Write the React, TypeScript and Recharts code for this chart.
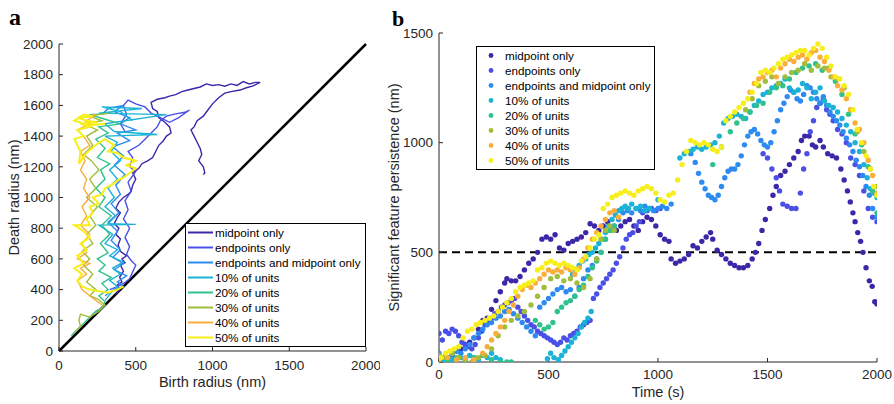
import React from 'react';
import { ScatterChart, Scatter, XAxis, YAxis, ReferenceLine, Label } from 'recharts';

type Pt = [number, number];

const seriesNames = [
  'midpoint only',
  'endpoints only',
  'endpoints and midpoint only',
  '10% of units',
  '20% of units',
  '30% of units',
  '40% of units',
  '50% of units',
];
const seriesColors = ['#3e26a8', '#4a50e6', '#2c8af0', '#1ab3d7', '#30c28c', '#a0bd3b', '#f9ae3c', '#f7ee1a'];

const radiusTicks = [0, 200, 400, 600, 800, 1000, 1200, 1400, 1600, 1800, 2000];
const birthTicks = [0, 500, 1000, 1500, 2000];
const timeTicks = [0, 500, 1000, 1500, 2000];
const persistenceTicks = [0, 500, 1000, 1500];

// panel a: (birth radius, death radius) trajectories
const midA: Pt[] = [
  [370, 370], [395, 400], [380, 430], [410, 450], [395, 480], [420, 520], [400, 560], [430, 575], [410, 600],
  [440, 620], [400, 650], [385, 690], [400, 730], [370, 760], [390, 800], [360, 830], [380, 870], [400, 900],
  [370, 930], [390, 970], [420, 1000], [450, 1020], [470, 1040], [480, 1080], [500, 1120], [480, 1160],
  [520, 1190], [540, 1220], [580, 1240], [610, 1260], [630, 1300], [650, 1340], [680, 1370], [700, 1400],
  [730, 1420], [720, 1460], [690, 1490], [650, 1520], [640, 1560], [610, 1580], [600, 1620], [640, 1640],
  [690, 1650], [720, 1660], [760, 1670], [800, 1690], [840, 1700], [880, 1710], [920, 1720], [960, 1740],
  [1000, 1730], [1040, 1735], [1080, 1725], [1120, 1740], [1160, 1730], [1200, 1755], [1240, 1740],
  [1280, 1750], [1310, 1750], [1260, 1725], [1220, 1715], [1180, 1700], [1120, 1690], [1080, 1680],
  [1040, 1650], [1000, 1610], [970, 1570], [940, 1530], [900, 1500], [880, 1460], [860, 1440], [880, 1400],
  [900, 1360], [920, 1320], [930, 1280], [910, 1240], [940, 1200], [950, 1160], [940, 1150],
];
const endA: Pt[] = [
  [330, 400], [380, 420], [420, 440], [460, 470], [500, 560], [470, 590], [440, 630], [460, 680], [430, 740],
  [460, 800], [420, 860], [450, 920], [430, 980], [470, 1040], [450, 1100], [500, 1170], [460, 1200],
  [480, 1260], [450, 1300], [520, 1340], [560, 1380], [600, 1420], [640, 1460], [660, 1500], [700, 1530],
  [760, 1545], [820, 1555], [850, 1570], [780, 1520], [720, 1490], [660, 1520], [600, 1550], [560, 1590],
  [500, 1610], [450, 1635], [420, 1600], [440, 1540], [400, 1480], [430, 1430],
];
const bothA: Pt[] = [
  [300, 360], [360, 400], [420, 420], [380, 450], [440, 490], [360, 530], [420, 570], [350, 610], [400, 660],
  [340, 720], [380, 780], [320, 840], [390, 900], [340, 960], [400, 1020], [370, 1080], [430, 1150],
  [360, 1210], [420, 1270], [350, 1330], [460, 1370], [380, 1420], [500, 1440], [400, 1480], [460, 1520],
  [360, 1560], [420, 1600], [320, 1580], [280, 1540],
];
const u10A: Pt[] = [
  [300, 330], [340, 380], [380, 420], [330, 460], [400, 500], [350, 540], [420, 580], [330, 620], [380, 660],
  [300, 700], [350, 760], [260, 820], [500, 825], [320, 830], [370, 880], [300, 940], [360, 1000],
  [320, 1060], [380, 1120], [330, 1180], [400, 1240], [340, 1300], [380, 1360], [300, 1400], [640, 1410],
  [360, 1430], [300, 1480], [700, 1540], [260, 1550], [540, 1580], [280, 1590], [400, 1560], [480, 1500],
];
const u20A: Pt[] = [
  [80, 100], [120, 140], [160, 180], [200, 220], [240, 260], [280, 280], [300, 320], [260, 360], [320, 400],
  [280, 440], [340, 480], [260, 520], [300, 560], [250, 600], [320, 640], [270, 700], [330, 760], [280, 820],
  [340, 880], [260, 940], [300, 1000], [240, 1060], [300, 1120], [270, 1180], [330, 1220], [250, 1260],
  [300, 1320], [240, 1380], [320, 1420], [260, 1460], [400, 1480], [300, 1510], [200, 1540], [350, 1550],
];
const u30A: Pt[] = [
  [100, 120], [140, 160], [130, 200], [140, 240], [200, 220], [260, 260], [300, 300], [250, 340], [200, 360],
  [240, 400], [180, 450], [220, 500], [160, 560], [200, 600], [150, 650], [220, 700], [180, 760], [240, 820],
  [200, 880], [250, 940], [180, 1000], [240, 1060], [200, 1120], [260, 1180], [210, 1240], [160, 1280],
  [220, 1340], [180, 1400], [250, 1440], [160, 1480], [280, 1500], [200, 1530], [320, 1550],
];
const u40A: Pt[] = [
  [280, 300], [240, 330], [200, 360], [150, 400], [120, 460], [180, 500], [140, 540], [200, 570], [120, 600],
  [180, 640], [150, 700], [200, 760], [140, 820], [180, 880], [150, 940], [200, 1000], [160, 1060],
  [180, 1120], [140, 1180], [170, 1240], [140, 1300], [200, 1340], [160, 1400], [120, 1440], [200, 1480],
  [140, 1520], [240, 1540], [180, 1500],
];
const u50A: Pt[] = [
  [420, 420], [380, 400], [320, 380], [260, 390], [200, 400], [150, 420], [120, 460], [150, 500], [100, 540],
  [160, 570], [120, 620], [180, 660], [140, 700], [200, 740], [160, 780], [100, 820], [200, 820], [180, 860],
  [220, 900], [200, 940], [260, 960], [220, 1000], [280, 1020], [300, 1060], [340, 1080], [380, 1110],
  [420, 1130], [460, 1160], [500, 1190], [440, 1210], [500, 1240], [420, 1260], [380, 1290], [320, 1300],
  [360, 1340], [300, 1380], [250, 1350], [200, 1310], [170, 1280], [150, 1250], [130, 1220], [140, 1300],
  [120, 1340], [100, 1380], [160, 1400], [120, 1440], [200, 1460], [140, 1480], [250, 1490], [180, 1500],
  [120, 1520], [220, 1530], [160, 1540], [100, 1500], [200, 1470], [300, 1480],
];

// panel b: (time, significant feature persistence)
const midB: Pt[] = [
  [0, 10], [20, 5], [40, 20], [60, 30], [80, 50], [100, 60], [120, 80], [140, 90], [160, 110], [180, 150],
  [200, 190], [220, 200], [240, 240], [260, 280], [280, 320], [300, 360], [310, 380], [330, 370], [350, 370],
  [370, 390], [390, 420], [410, 450], [430, 470], [450, 500], [470, 560], [490, 570], [510, 560], [530, 580],
  [550, 520], [570, 510], [590, 540], [610, 550], [630, 560], [650, 570], [670, 590], [690, 630], [710, 620],
  [730, 600], [750, 620], [770, 640], [790, 610], [810, 600], [830, 620], [850, 640], [870, 650], [890, 620],
  [910, 600], [930, 640], [950, 660], [970, 650], [990, 620], [1010, 580], [1030, 560], [1050, 550],
  [1060, 470], [1080, 450], [1100, 460], [1120, 470], [1140, 490], [1160, 530], [1180, 520], [1200, 550],
  [1220, 570], [1240, 590], [1250, 560], [1270, 510], [1290, 490], [1310, 470], [1330, 450], [1350, 440],
  [1370, 430], [1390, 430], [1410, 440], [1430, 470], [1445, 500], [1460, 540], [1475, 600], [1490, 650],
  [1510, 700], [1525, 760], [1540, 800], [1560, 850], [1580, 870], [1600, 900], [1620, 930], [1640, 960],
  [1655, 1010], [1670, 1030], [1690, 1030], [1705, 990], [1720, 980], [1740, 1010], [1755, 980], [1775, 950],
  [1795, 940], [1815, 930], [1835, 880], [1850, 830], [1865, 780], [1878, 730], [1890, 680], [1900, 640],
  [1912, 590], [1925, 550], [1936, 500], [1950, 430], [1965, 370], [1978, 345], [1990, 275], [2000, 265],
];
const endB: Pt[] = [
  [0, 130], [15, 100], [30, 140], [45, 130], [60, 150], [75, 140], [90, 120], [105, 90], [120, 80], [135, 70],
  [150, 60], [165, 80], [180, 110], [195, 140], [210, 170], [225, 190], [240, 200], [255, 220], [270, 230],
  [285, 250], [300, 260], [315, 270], [330, 280], [345, 290], [360, 250], [375, 230], [390, 210], [405, 190],
  [420, 170], [435, 160], [450, 140], [465, 130], [480, 120], [495, 110], [510, 100], [525, 90], [540, 80],
  [555, 90], [570, 110], [585, 100], [600, 120], [615, 130], [630, 140], [645, 160], [660, 170], [675, 180],
  [690, 190], [705, 290], [720, 310], [735, 340], [750, 360], [765, 380], [780, 400], [795, 420], [810, 450],
  [825, 480], [840, 520], [855, 560], [870, 580], [885, 590], [900, 620], [915, 640], [930, 680], [950, 690],
  [970, 700], [990, 690], [1010, 700], [1480, 950], [1500, 930], [1520, 880], [1540, 840], [1555, 780],
  [1570, 720], [1590, 710], [1610, 700], [1630, 700], [1650, 770], [1665, 880], [1680, 950], [1695, 1050],
  [1710, 1100], [1725, 1160], [1740, 1180], [1755, 1200], [1770, 1150], [1785, 1130], [1800, 1100],
  [1820, 1060], [1840, 1040], [1860, 1000], [1880, 930], [1900, 900], [1920, 850], [1940, 780], [1960, 700],
  [1980, 660], [2000, 640],
];
const bothB: Pt[] = [
  [0, 40], [20, 20], [40, 10], [60, 30], [80, 50], [100, 40], [120, 60], [140, 80], [160, 110], [180, 130],
  [200, 150], [220, 170], [240, 180], [260, 200], [280, 210], [300, 230], [320, 240], [340, 220], [360, 200],
  [380, 180], [400, 160], [420, 140], [440, 120], [460, 250], [480, 270], [500, 290], [520, 310], [540, 330],
  [560, 340], [580, 320], [600, 330], [620, 300], [640, 340], [660, 380], [680, 420], [700, 440], [720, 470],
  [740, 500], [760, 560], [780, 600], [800, 620], [820, 650], [840, 680], [860, 690], [880, 680], [900, 700],
  [920, 690], [940, 710], [960, 700], [980, 690], [1000, 700], [1020, 710], [1040, 700], [1060, 720],
  [1150, 950], [1170, 910], [1185, 860], [1200, 820], [1215, 790], [1230, 760], [1245, 750], [1260, 740],
  [1275, 760], [1290, 800], [1305, 840], [1320, 870], [1335, 880], [1350, 880], [1365, 900], [1380, 940],
  [1395, 990], [1410, 1030], [1425, 1050], [1440, 1060], [1455, 1040], [1470, 1010], [1485, 990], [1500, 980],
  [1515, 1000], [1530, 1050], [1545, 1100], [1560, 1150], [1575, 1180], [1590, 1210], [1605, 1240],
  [1620, 1230], [1635, 1200], [1650, 1190], [1665, 1220], [1680, 1260], [1695, 1250], [1710, 1230],
  [1725, 1200], [1740, 1180], [1755, 1210], [1770, 1170], [1785, 1140], [1800, 1120], [1815, 1100],
  [1830, 1080], [1845, 1050], [1860, 1020], [1875, 990], [1890, 960], [1905, 920], [1920, 890], [1935, 850],
  [1950, 800], [1965, 760], [1980, 700], [2000, 660],
];
const u10B: Pt[] = [
  [0, 20], [20, 10], [40, 0], [60, 10], [80, 0], [100, 20], [120, 10], [140, 30], [160, 20], [180, 10],
  [200, 30], [220, 20], [240, 40], [260, 20], [280, 10], [495, 15], [510, 40], [525, 20], [545, 10], [560, 30],
  [575, 50], [590, 70], [605, 90], [620, 110], [635, 130], [650, 160], [665, 180], [680, 200], [695, 230],
  [610, 400], [625, 420], [640, 440], [655, 460], [670, 470], [685, 490], [700, 500], [715, 520], [730, 540],
  [745, 560], [760, 590], [775, 620], [790, 650], [805, 670], [820, 690], [835, 700], [850, 710], [865, 700],
  [880, 720], [900, 700], [920, 710], [940, 690], [960, 700], [1000, 740], [1100, 930], [1120, 950],
  [1140, 960], [1160, 970], [1180, 980], [1200, 970], [1220, 980], [1240, 990], [1260, 1000], [1280, 1030],
  [1300, 1090], [1320, 1110], [1340, 1120], [1360, 1130], [1380, 1120], [1400, 1110], [1420, 1140],
  [1440, 1170], [1460, 1190], [1480, 1220], [1500, 1230], [1520, 1250], [1540, 1260], [1560, 1270],
  [1580, 1290], [1600, 1250], [1620, 1230], [1640, 1240], [1660, 1270], [1680, 1250], [1700, 1200],
  [1720, 1230], [1740, 1250], [1760, 1190], [1780, 1170], [1800, 1160], [1820, 1140], [1840, 1110],
  [1860, 1080], [1880, 1050], [1900, 1000], [1920, 960], [1940, 900], [1955, 840], [1970, 790], [1985, 770],
  [2000, 750],
];
const u20B: Pt[] = [
  [0, 10], [40, 0], [80, 20], [120, 10], [160, 20], [200, 30], [240, 10], [280, 0], [310, 0], [330, 0],
  [440, 190], [460, 170], [480, 150], [500, 160], [520, 180], [540, 230], [560, 250], [580, 270], [600, 280],
  [620, 300], [640, 330], [660, 350], [680, 390], [700, 430], [720, 460], [740, 500], [760, 560], [780, 600],
  [800, 620], [1250, 900], [1290, 980], [1330, 1050], [1360, 1090], [1390, 1110], [1420, 1140], [1450, 1170],
  [1480, 1180], [1510, 1230], [1540, 1250], [1570, 1260], [1600, 1290], [1630, 1320], [1660, 1340],
  [1690, 1350], [1720, 1360], [1750, 1330], [1780, 1340], [1810, 1280], [1840, 1220], [1870, 1130],
  [1900, 1040], [1930, 990], [1960, 890], [1980, 780], [2000, 680],
];
const u30B: Pt[] = [
  [0, 30], [30, 20], [60, 40], [90, 20], [120, 10], [150, 0], [180, 20], [210, 30], [240, 60], [270, 120],
  [300, 160], [330, 190], [360, 210], [390, 230], [420, 260], [450, 300], [480, 340], [510, 380], [540, 390],
  [570, 370], [600, 380], [630, 360], [660, 340], [690, 380], [720, 470], [740, 560], [760, 600], [780, 620],
  [800, 600], [1400, 1150], [1430, 1200], [1460, 1260], [1490, 1280], [1520, 1300], [1550, 1270], [1580, 1300],
  [1610, 1320], [1640, 1330], [1670, 1360], [1700, 1330], [1730, 1350], [1760, 1340], [1790, 1300],
  [1820, 1290], [1850, 1250], [1880, 1150], [1910, 1050], [1940, 960], [1970, 880], [2000, 800],
];
const u40B: Pt[] = [
  [0, 10], [40, 20], [80, 10], [120, 20], [160, 10], [200, 40], [220, 70], [240, 100], [260, 130], [280, 160],
  [300, 190], [320, 230], [340, 260], [360, 300], [380, 330], [400, 350], [420, 340], [440, 360], [460, 380],
  [480, 400], [500, 420], [520, 410], [540, 420], [560, 410], [580, 430], [600, 420], [620, 400], [640, 430],
  [660, 470], [680, 520], [700, 560], [720, 590], [740, 620], [760, 650], [780, 680], [800, 690], [820, 660],
  [1420, 1230], [1440, 1270], [1460, 1290], [1480, 1300], [1500, 1320], [1520, 1330], [1540, 1300],
  [1560, 1340], [1580, 1360], [1600, 1380], [1620, 1370], [1640, 1390], [1660, 1400], [1680, 1380],
  [1700, 1410], [1720, 1420], [1740, 1390], [1760, 1370], [1780, 1330], [1800, 1300], [1820, 1260],
  [1840, 1240], [1860, 1200], [1880, 1150], [1900, 1090], [1920, 1060], [1940, 1000], [1960, 920],
  [1980, 850], [2000, 770],
];
const u50B: Pt[] = [
  [10, 20], [30, 40], [50, 50], [70, 60], [90, 70], [110, 110], [130, 140], [150, 150], [170, 170], [190, 180],
  [210, 190], [230, 200], [250, 210], [270, 230], [290, 250], [310, 270], [330, 290], [350, 320], [370, 340],
  [390, 350], [410, 360], [430, 370], [450, 420], [470, 430], [490, 450], [510, 460], [530, 450], [550, 440],
  [570, 450], [590, 440], [610, 430], [630, 420], [650, 460], [670, 480], [690, 520], [710, 560], [730, 580],
  [750, 700], [770, 720], [790, 750], [810, 760], [830, 770], [850, 780], [870, 770], [890, 760], [910, 780],
  [930, 790], [950, 800], [970, 790], [990, 770], [1010, 740], [1030, 730], [1050, 760], [1070, 770],
  [1090, 830], [1110, 900], [1130, 960], [1150, 1010], [1170, 1000], [1190, 990], [1210, 1000], [1230, 990],
  [1250, 970], [1270, 960], [1290, 980], [1310, 1100], [1330, 1120], [1350, 1140], [1370, 1160], [1390, 1180],
  [1410, 1200], [1430, 1230], [1450, 1270], [1470, 1320], [1490, 1330], [1510, 1320], [1530, 1340],
  [1550, 1360], [1570, 1380], [1590, 1390], [1610, 1400], [1630, 1410], [1650, 1420], [1670, 1420],
  [1690, 1400], [1710, 1430], [1730, 1450], [1750, 1430], [1770, 1390], [1790, 1350], [1810, 1300],
  [1830, 1290], [1850, 1260], [1870, 1220], [1890, 1150], [1910, 1060], [1930, 1000], [1950, 940],
  [1970, 880], [1985, 800], [2000, 760],
];

const tracksA = [midA, endA, bothA, u10A, u20A, u30A, u40A, u50A];
const dotsB = [midB, endB, bothB, u10B, u20B, u30B, u40B, u50B];

const toXY = (pts: Pt[]) => pts.map(([x, y]) => ({ x, y }));

const FONT = '"Liberation Sans", Arial, sans-serif';
const tickStyle = { fill: '#262626', fontSize: 13.5, fontFamily: FONT };
const labelStyle = { fill: '#262626', fontSize: 14.5, fontFamily: FONT };

const NoDot = () => <g />;

function LineLegend() {
  return (
    <div
      style={{
        position: 'absolute', left: 185, top: 223, width: 179, height: 121, border: '1px solid #000',
        background: '#fff', paddingTop: 1, fontFamily: FONT, fontSize: 11.7, color: '#000',
      }}
    >
      {seriesNames.map((n, i) => (
        <div key={n} style={{ display: 'flex', alignItems: 'center', height: 15, lineHeight: '15px' }}>
          <svg width={29} height={15} style={{ flex: 'none' }}>
            <line x1={2} x2={27} y1={7.5} y2={7.5} stroke={seriesColors[i]} strokeWidth={2} />
          </svg>
          <span style={{ whiteSpace: 'nowrap' }}>{n}</span>
        </div>
      ))}
    </div>
  );
}

function DotLegend() {
  return (
    <div
      style={{
        position: 'absolute', left: 476, top: 46, width: 177, height: 121, border: '1px solid #000',
        background: '#fff', paddingTop: 1, fontFamily: FONT, fontSize: 11.7, color: '#000',
      }}
    >
      {seriesNames.map((n, i) => (
        <div key={n} style={{ display: 'flex', alignItems: 'center', height: 15, lineHeight: '15px' }}>
          <svg width={28} height={15} style={{ flex: 'none' }}>
            <circle cx={14} cy={7.5} r={2.4} fill={seriesColors[i]} />
          </svg>
          <span style={{ whiteSpace: 'nowrap' }}>{n}</span>
        </div>
      ))}
    </div>
  );
}

export default function App() {
  return (
    <div style={{ position: 'absolute', left: 0, top: 0, width: 894, height: 404, background: '#fff' }}>
      <div style={{ position: 'absolute', left: 0, top: 0 }}>
        <ScatterChart width={380} height={404} margin={{ top: 44, right: 14, bottom: 23, left: 9 }}>
          <XAxis
            type="number" dataKey="x" domain={[0, 2000]} ticks={birthTicks} interval={0}
            stroke="#262626" tickSize={-4} tickMargin={13} tick={tickStyle} height={30}
            allowDataOverflow
          >
            <Label value="Birth radius (nm)" position="bottom" offset={-4} style={labelStyle} />
          </XAxis>
          <YAxis
            type="number" dataKey="y" domain={[0, 2000]} ticks={radiusTicks} interval={0}
            stroke="#262626" tickSize={-4} tickMargin={10} tick={tickStyle} width={50}
            allowDataOverflow
          >
            <Label value="Death radius (nm)" angle={-90} position="insideLeft" offset={5}
              style={{ ...labelStyle, textAnchor: 'middle' }} />
          </YAxis>
          {tracksA.map((t, i) => (
            <Scatter
              key={seriesNames[i]}
              name={seriesNames[i]}
              data={toXY(t)}
              fill={seriesColors[i]}
              line={{ stroke: seriesColors[i], strokeWidth: i === 7 ? 2 : 1.4 }}
              shape={NoDot}
              isAnimationActive={false}
            />
          ))}
          <ReferenceLine segment={[{ x: 0, y: 0 }, { x: 2000, y: 2000 }]} stroke="#000" strokeWidth={2.5} />
        </ScatterChart>
        <LineLegend />
      </div>

      <div style={{ position: 'absolute', left: 380, top: 0 }}>
        <ScatterChart width={514} height={404} margin={{ top: 33, right: 17, bottom: 12, left: 14 }}>
          <XAxis
            type="number" dataKey="x" domain={[0, 2000]} ticks={timeTicks} interval={0}
            stroke="#262626" tickSize={-4} tickMargin={11} tick={tickStyle} height={30}
            allowDataOverflow
          >
            <Label value="Time (s)" position="bottom" offset={-5} style={labelStyle} />
          </XAxis>
          <YAxis
            type="number" dataKey="y" domain={[0, 1500]} ticks={persistenceTicks} interval={0}
            stroke="#262626" tickSize={-4} tickMargin={10} tick={tickStyle} width={45}
            allowDataOverflow
          >
            <Label value="Significant feature persistence (nm)" angle={-90} position="insideLeft" offset={0}
              style={{ ...labelStyle, textAnchor: 'middle' }} />
          </YAxis>
          <ReferenceLine y={500} stroke="#000" strokeWidth={2} strokeDasharray="8 5" />
          {dotsB.map((d, i) => (
            <Scatter
              key={seriesNames[i]}
              name={seriesNames[i]}
              data={toXY(d)}
              fill={seriesColors[i]}
              shape={(p: any) => <circle cx={p.cx} cy={p.cy} r={2.7} fill={seriesColors[i]} />}
              isAnimationActive={false}
            />
          ))}
        </ScatterChart>
        <div style={{ position: 'absolute', left: -380, top: 0 }}>
          <DotLegend />
        </div>
      </div>

      <svg width={894} height={404} style={{ position: 'absolute', left: 0, top: 0, pointerEvents: 'none' }}>
        <text x={9} y={25} fontFamily='"Liberation Serif", serif' fontWeight="bold" fontSize={24} fill="#000">a</text>
        <text x={392} y={26} fontFamily='"Liberation Serif", serif' fontWeight="bold" fontSize={22} fill="#000">b</text>
      </svg>
    </div>
  );
}
